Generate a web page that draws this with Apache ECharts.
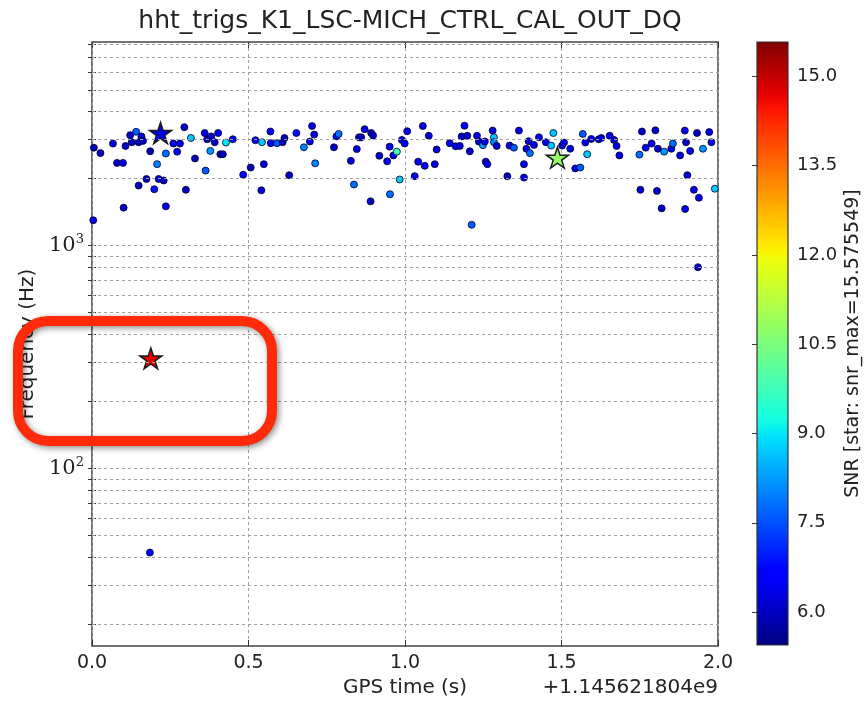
<!DOCTYPE html>
<html>
<head>
<meta charset="utf-8">
<script src="https://cdn.jsdelivr.net/npm/echarts@6/dist/echarts.min.js"></script>
<style>
html,body{margin:0;padding:0;background:#fff;}
#c{width:868px;height:703px;}
</style>
</head>
<body>
<div id="c"></div>
<script>
// ---- data (GPS time offset in s, frequency in Hz, SNR) ----
const TIMES = [
0.006,0.027,0.067,0.080,0.099,0.107,0.122,0.127,0.141,0.149,0.158,0.163,0.186,0.174,0.149,0.101,0.004,0.208,0.213,0.229,
0.199,0.236,0.236,0.260,0.281,0.272,0.295,0.316,0.300,0.329,0.360,0.368,0.381,0.392,0.403,0.378,0.363,0.410,0.418,0.428,
0.450,0.483,0.507,
0.522,0.543,0.549,0.541,0.570,0.571,0.591,0.609,0.615,0.630,0.653,0.677,0.696,0.703,0.710,0.713,0.773,0.781,0.788,0.827,
0.837,0.846,0.853,0.860,0.871,0.892,0.898,0.890,0.918,0.943,0.951,0.952,0.963,0.974,0.983,0.990,0.999,1.007,
1.057,1.076,1.042,1.063,1.095,1.031,1.101,1.143,1.162,1.175,1.181,1.190,1.199,1.207,1.213,1.230,1.236,1.249,1.255,1.258,
1.263,1.280,1.284,1.284,1.293,1.327,1.334,1.348,1.364,1.380,1.380,1.388,1.395,1.399,1.412,1.428,1.450,1.467,1.474,1.502,
1.508,1.528,
1.568,1.576,1.595,1.582,1.544,1.560,1.619,1.627,1.654,1.668,1.676,1.685,1.749,1.752,1.757,1.769,1.788,1.800,1.805,1.808,
1.820,1.828,1.851,1.856,1.879,1.894,1.898,1.902,1.895,1.911,1.923,1.933,1.939,1.952,1.972,1.979,1.990,
1.936,0.185
];
const FREQS = [
2750,2600,2870,2350,2350,2800,3130,2910,3240,2910,3090,2950,2650,1990,1860,1480,1300,2320,1990,1960,
1790,1500,2590,2870,2870,2640,3400,3040,1780,2460,3200,3000,3090,2910,3200,2660,2170,2570,2570,2900,
3000,2080,2240,
2970,2910,2320,1770,3250,2880,2880,2910,3040,2070,3200,2760,2930,3440,3150,2340,2760,3090,3170,2400,
1880,2710,3060,3060,3330,3200,3120,1580,2530,2390,2780,1700,2540,2640,1980,2980,2870,3260,
3440,3110,2380,2280,2320,2050,2700,2880,2790,2800,3090,3450,3110,2650,1240,3110,2930,2820,2930,2380,
2320,3280,3060,2910,2800,2050,2810,2750,3280,2320,2020,2720,2940,2600,2830,3060,2910,2810,3200,2810,
2900,2720,
3170,2900,3010,2570,2220,2240,3000,3040,3110,2980,2800,2540,2560,1780,3250,2750,2870,3290,1760,2720,
1470,2640,2720,2870,2540,3280,2910,2070,1460,2660,1780,3200,1640,2720,3230,2910,1800,
800,42
];
const SNRS = [
6.0,6.0,6.3,6.1,6.3,6.1,6.1,6.0,7.6,6.1,6.3,6.0,5.9,5.9,6.0,6.1,6.3,8.0,6.3,6.0,
6.9,6.4,7.8,6.4,6.4,6.6,6.1,8.7,6.0,6.0,6.4,6.0,6.1,6.0,6.6,8.2,7.6,6.0,6.0,9.0,
6.6,6.6,6.0,
6.6,8.7,6.3,6.1,6.6,6.6,7.6,6.1,6.0,6.0,6.9,8.0,6.4,6.3,6.3,8.0,6.1,6.6,7.8,6.3,
7.8,6.3,6.0,6.0,6.3,6.1,6.1,6.1,6.1,6.3,6.4,7.8,6.4,9.8,8.7,6.4,6.6,6.4,
6.4,6.2,6.4,6.5,6.3,6.4,6.2,6.4,6.5,6.3,6.1,6.6,6.1,6.1,7.6,6.4,6.1,8.2,6.4,6.3,
6.4,6.3,8.7,8.0,6.1,6.0,6.3,7.6,6.4,6.6,6.4,6.4,6.1,7.8,6.4,6.4,6.4,8.7,8.7,6.3,
6.4,6.4,
7.6,6.4,6.4,8.7,6.4,7.6,6.4,6.3,6.4,6.2,6.4,6.4,7.8,6.1,6.1,6.6,6.4,6.1,6.1,6.1,
6.1,8.2,6.4,7.8,6.4,6.4,6.1,6.1,6.4,6.4,6.4,6.1,6.4,8.2,6.4,6.4,8.7,
6.1,6.6
];
// star markers
const STAR_TIMES = [0.219, 1.487, 0.188];
const STAR_FREQS = [3200, 2480, 312];
const STAR_SNRS = [6.3, 10.8, 14.7];

// axes
const X_TICKS = [0, 0.5, 1.0, 1.5, 2.0];
const Y_LABELS = [100, 1000];
const Y_GRID = [20,30,40,50,60,70,80,90,100,200,300,400,500,600,700,800,900,1000,2000,3000,4000,5000,6000,7000,8000];
const CB_TICKS = [6.0, 7.5, 9.0, 10.5, 12.0, 13.5, 15.0];
const CB_MIN = 5.447, CB_MAX = 15.575549;
const Y_MIN = 16, Y_MAX = 8192;

// jet colormap
const JR=[[0,0],[0.35,0],[0.66,1],[0.89,1],[1,0.5]];
const JG=[[0,0],[0.125,0],[0.375,1],[0.64,1],[0.91,0],[1,0]];
const JB=[[0,0.5],[0.11,1],[0.34,1],[0.65,0],[1,0]];
function seg(a,t){for(let i=0;i<a.length-1;i++){if(t<=a[i+1][0]){const f=(t-a[i][0])/(a[i+1][0]-a[i][0]);return a[i][1]+f*(a[i+1][1]-a[i][1]);}}return a[a.length-1][1];}
function jet(t){const c=[seg(JR,t),seg(JG,t),seg(JB,t)].map(v=>Math.round(v*255));return 'rgb('+c.join(',')+')';}
const NC=65;
const jetColors=[];for(let i=0;i<NC;i++)jetColors.push(jet(i/(NC-1)));
const jetStops=jetColors.map((c,i)=>({offset:i/(NC-1),color:c}));

const pts = TIMES.map((t,i)=>[t,FREQS[i],SNRS[i]]);
const stars = STAR_TIMES.map((t,i)=>[t,STAR_FREQS[i],STAR_SNRS[i]]);
const STAR='path://M50,0 L61.23,34.55 L97.55,34.55 L68.16,55.9 L79.39,90.45 L50,69.1 L20.61,90.45 L31.84,55.9 L2.45,34.55 L38.77,34.55 Z';

const gridLineStyle={color:'#a0a0a0',type:[3,3],width:1};
const chart = echarts.init(document.getElementById('c'));
chart.setOption({
  animation:false,
  textStyle:{fontFamily:'DejaVu Sans'},
  title:{text:'hht_trigs_K1_LSC-MICH_CTRL_CAL_OUT_DQ',left:405,textAlign:'center',top:4,
    textStyle:{fontSize:25,fontWeight:'normal',color:'#222',fontFamily:'DejaVu Sans'}},
  grid:[
    {left:92,top:42,width:626,height:604,show:true,borderColor:'#444',borderWidth:1.5,backgroundColor:'#fff'},
    {left:757,top:42,width:31,height:603,show:false}
  ],
  xAxis:[
    {type:'value',gridIndex:0,min:0,max:2,interval:0.5,
     name:'GPS time (s)',nameLocation:'middle',nameGap:32,
     nameTextStyle:{fontSize:20,color:'#222'},
     axisLine:{show:false},
     axisTick:{inside:true,length:6,lineStyle:{color:'#333'}},
     axisLabel:{fontSize:19,color:'#222',margin:8,formatter:v=>v.toFixed(1)},
     splitLine:{show:true,lineStyle:gridLineStyle}},
    {type:'value',gridIndex:0,min:0,max:2,interval:0.5,position:'top',
     axisLine:{show:false},axisTick:{inside:true,length:6,lineStyle:{color:'#333'}},
     axisLabel:{show:false},splitLine:{show:false}},
    {type:'value',gridIndex:1,min:0,max:1,show:false}
  ],
  yAxis:[
    {type:'log',logBase:10,gridIndex:0,min:Y_MIN,max:Y_MAX,
     name:'Frequency (Hz)',nameLocation:'middle',nameGap:44,nameRotate:90,
     nameTextStyle:{fontSize:20,color:'#222'},
     axisLine:{show:false},
     axisTick:{inside:true,length:4,customValues:Y_GRID,lineStyle:{color:'#333'}},
     axisLabel:{customValues:Y_LABELS,margin:8,
       formatter:v=>'{b|10}{s|'+Math.round(Math.log10(v))+'}',
       rich:{b:{fontSize:21,fontFamily:'DejaVu Serif',color:'#222'},
             s:{fontSize:13,fontFamily:'DejaVu Serif',color:'#222',padding:[0,0,12,0]}}},
     splitLine:{show:false}},
    {type:'log',logBase:10,gridIndex:0,min:Y_MIN,max:Y_MAX,position:'right',
     axisLine:{show:false},
     axisTick:{inside:true,length:4,customValues:Y_GRID,lineStyle:{color:'#333'}},
     axisLabel:{show:false},splitLine:{show:false}},
    {type:'value',gridIndex:1,min:CB_MIN,max:CB_MAX,position:'right',
     name:'SNR [star: snr_max=15.575549]',nameLocation:'middle',nameGap:56,nameRotate:90,
     nameTextStyle:{fontSize:19,color:'#222'},
     axisLine:{show:false},
     axisTick:{inside:true,length:5,customValues:CB_TICKS,lineStyle:{color:'#333'}},
     axisLabel:{customValues:CB_TICKS,fontSize:18,color:'#222',margin:9,formatter:v=>v.toFixed(1)},
     splitLine:{show:false}}
  ],
  visualMap:{type:'continuous',show:false,min:CB_MIN,max:CB_MAX,dimension:2,seriesIndex:[1,2],
    inRange:{color:jetColors}},
  series:[
    {type:'scatter',xAxisIndex:0,yAxisIndex:0,data:[],silent:true,
     markLine:{silent:true,symbol:'none',label:{show:false},lineStyle:gridLineStyle,
       data:Y_GRID.map(v=>({yAxis:v}))}},
    {type:'scatter',xAxisIndex:0,yAxisIndex:0,data:pts,symbol:'circle',symbolSize:7,
     itemStyle:{borderColor:'rgba(0,0,40,0.8)',borderWidth:1,opacity:1},z:3},
    {type:'scatter',xAxisIndex:0,yAxisIndex:0,data:stars,symbol:STAR,symbolSize:22,symbolKeepAspect:true,
     itemStyle:{borderColor:'#1a1a1a',borderWidth:1.5,opacity:1},z:4},
    {type:'custom',xAxisIndex:2,yAxisIndex:2,data:[[0,CB_MIN,1,CB_MAX]],silent:true,
     renderItem:(params,api)=>{
       const p0=api.coord([api.value(0),api.value(1)]);
       const p1=api.coord([api.value(2),api.value(3)]);
       return {type:'rect',shape:{x:p0[0],y:p1[1],width:p1[0]-p0[0],height:p0[1]-p1[1]},
         style:{fill:new echarts.graphic.LinearGradient(0,1,0,0,jetStops),stroke:'#333',lineWidth:1.2}};
     }}
  ],
  graphic:[
    {type:'text',right:150,top:678,style:{text:'+1.145621804e9',fontSize:20,fill:'#222',fontFamily:'DejaVu Sans'}},
    {type:'rect',shape:{x:18,y:321,width:254,height:120,r:30},z:100,
     style:{fill:'none',stroke:'#ff2a0a',lineWidth:10,shadowBlur:6,shadowColor:'rgba(0,0,0,0.45)',shadowOffsetX:2,shadowOffsetY:2}}
  ]
});
</script>
</body>
</html>
